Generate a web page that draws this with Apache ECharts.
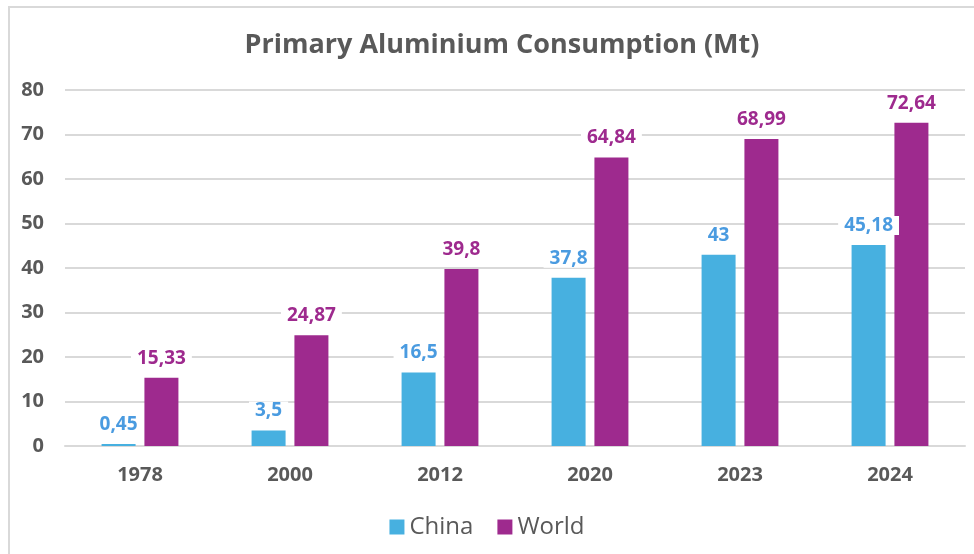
<!DOCTYPE html>
<html>
<head>
<meta charset="utf-8">
<script src="https://cdn.jsdelivr.net/npm/echarts@6/dist/echarts.min.js"></script>
<style>
html,body{margin:0;padding:0;background:#fff;}
#chart{width:974px;height:554px;position:relative;}
#frame{position:absolute;left:8px;top:6px;width:966px;height:548px;border-top:2px solid #d9d9d9;border-left:2px solid #d9d9d9;pointer-events:none;}
</style>
</head>
<body>
<div style="position:relative;width:974px;height:554px;">
<div id="chart"></div>
<div id="frame"></div>
</div>
<script>
var categories = ['1978', '2000', '2012', '2020', '2023', '2024'];
var chinaValues = [0.45, 3.5, 16.5, 37.8, 43, 45.18];
var worldValues = [15.33, 24.87, 39.8, 64.84, 68.99, 72.64];
var yTicks = [0, 10, 20, 30, 40, 50, 60, 70, 80];

var FONT = '"Open Sans", "Noto Sans", sans-serif';
function fmt(v) { return String(v).replace('.', ','); }

var chart = echarts.init(document.getElementById('chart'), null, {renderer: 'canvas'});
chart.setOption({
  animation: false,
  backgroundColor: '#fff',
  title: {
    text: 'Primary Aluminium Consumption (Mt)',
    left: 497, top: 27, textAlign: 'center',
    textStyle: {fontFamily: FONT, fontWeight: 'bold', fontSize: 27, color: '#595959'}
  },
  legend: {
    data: ['China', 'World'],
    left: 'center', top: 510,
    itemWidth: 15, itemHeight: 15, itemGap: 24,
    icon: 'rect',
    textStyle: {fontFamily: FONT, fontSize: 24, color: '#595959'}
  },
  grid: {left: 65, right: 9, top: 90, bottom: 108, containLabel: false},
  xAxis: {
    type: 'category',
    data: categories,
    axisTick: {show: false},
    axisLine: {lineStyle: {color: '#d9d9d9', width: 2}},
    axisLabel: {fontFamily: FONT, fontWeight: 'bold', fontSize: 20, color: '#595959', margin: 19}
  },
  yAxis: {
    type: 'value',
    min: yTicks[0], max: yTicks[yTicks.length - 1], interval: 10,
    axisLine: {show: false},
    axisTick: {show: false},
    splitLine: {lineStyle: {color: '#d9d9d9', width: 2}},
    axisLabel: {fontFamily: FONT, fontWeight: 'bold', fontSize: 20, color: '#595959', margin: 21}
  },
  series: [
    {
      name: 'China', type: 'bar', data: chinaValues,
      barWidth: 34, barGap: '26%',
      itemStyle: {color: '#47B0E0'},
      label: {
        show: true, position: 'top', distance: 10,
        formatter: function (p) { return fmt(p.value); },
        fontFamily: FONT, fontWeight: 'bold', fontSize: 19, color: '#4A9BE0',
        backgroundColor: '#fff', padding: [0, 6]
      }
    },
    {
      name: 'World', type: 'bar', data: worldValues,
      barWidth: 34,
      itemStyle: {color: '#9E2A8E'},
      label: {
        show: true, position: 'top', distance: 10,
        formatter: function (p) { return fmt(p.value); },
        fontFamily: FONT, fontWeight: 'bold', fontSize: 19, color: '#9E2A8E',
        backgroundColor: '#fff', padding: [0, 6]
      }
    }
  ]
});
</script>
</body>
</html>
